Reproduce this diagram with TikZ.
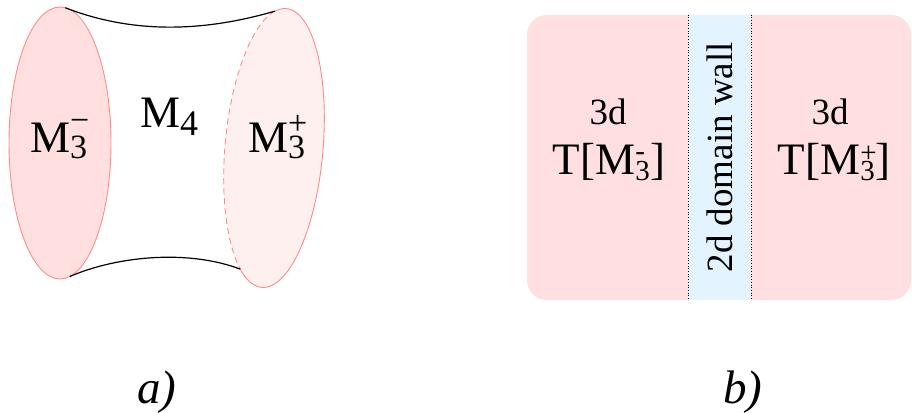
\documentclass[tikz,border=0pt]{standalone}
\usepackage{fontspec}
\setmainfont{Liberation Serif}
\usepackage{tikz}

\definecolor{bndred}{HTML}{FF8A8A}
\definecolor{lfill}{HTML}{FFDFDF}
\definecolor{rfill}{HTML}{FFF0F0}
\definecolor{wallblue}{HTML}{E3F3FF}

% M with stacked sub 3 and a sign on top
\newcommand{\Mthree}[5]{M\makebox[#2][l]{\fontsize{#1}{#1}\selectfont\rlap{\raisebox{#5}{3}}\raisebox{#3}{#4}}}

\begin{document}
\begin{tikzpicture}[x=1pt, y=1pt,
  bnd/.style={draw=bndred, line width=0.9pt},
  rim/.style={draw=black, line width=1.2pt},
  big/.style={font=\fontsize{45}{54}\selectfont, inner sep=0pt},
  small/.style={font=\fontsize{37}{44}\selectfont, inner sep=0pt},
  captext/.style={font=\fontsize{47}{56}\selectfont\itshape, inner sep=0pt}
]
\useasboundingbox (0,0) rectangle (912,412);

% a) the cobordism
\begin{scope}[shift={(60,269)}]
  \filldraw[fill=lfill, bnd] (0,0) ellipse [x radius=51, y radius=136];
  \coordinate (ltop) at (84:51 and 136);
  \coordinate (lbot) at (281:51 and 136);
\end{scope}
\begin{scope}[shift={(274,264)}, rotate=-5]
  \fill[rfill] (0,0) ellipse [x radius=49, y radius=140];
  \coordinate (rtop) at (103:49 and 140);
  \coordinate (rbot) at (242:49 and 140);
  \draw[bnd, dashed, dash pattern=on 6pt off 4pt] (103:49 and 140)
    arc [start angle=103, end angle=242, x radius=49, y radius=140];
  \draw[bnd] (242:49 and 140)
    arc [start angle=242, end angle=463, x radius=49, y radius=140];
\end{scope}
\draw[rim] (ltop) .. controls (130,379) and (200,379) .. (rtop);
\draw[rim] (lbot) .. controls (120,157) and (190,162) .. (rbot);

\node[big, anchor=base west] (mminus) at (30,259) {\Mthree{34}{19pt}{0.62em}{−}{-0.17em}};
\node[big, anchor=base west] (mfour) at (140,284) {M\raisebox{-0.16em}{\fontsize{36}{36}\selectfont 4}};
\node[big, anchor=base west] (mplus) at (248,259) {\Mthree{34}{19pt}{0.55em}{+}{-0.17em}};

% b) the domain wall
\fill[lfill, rounded corners=20pt] (527,112) rectangle (911,397);
\node[fill=wallblue, minimum width=63, minimum height=285, inner sep=0pt,
  anchor=south west] (wall) at (688,112) {};
\draw[dotted, line width=0.7pt] (wall.north west) -- (wall.south west);
\draw[dotted, line width=0.7pt] (wall.north east) -- (wall.south east);
\node[small, rotate=90] (walltxt) at (wall.center) {2d domain wall};

\node[small, anchor=base] (dminus) at (608,287) {3d};
\node[big, anchor=base] (tminus) at (609,237) {T[\Mthree{29}{15pt}{0.5em}{-}{-0.2em}]};
\node[small, anchor=base] (dplus) at (830,287) {3d};
\node[big, anchor=base] (tplus) at (834,237) {T[\Mthree{29}{15pt}{0.42em}{+}{-0.2em}]};

% captions
\node[captext, anchor=base] (capa) at (157,9) {a)};
\node[captext, anchor=base] (capb) at (743,9) {b)};
\end{tikzpicture}
\end{document}
